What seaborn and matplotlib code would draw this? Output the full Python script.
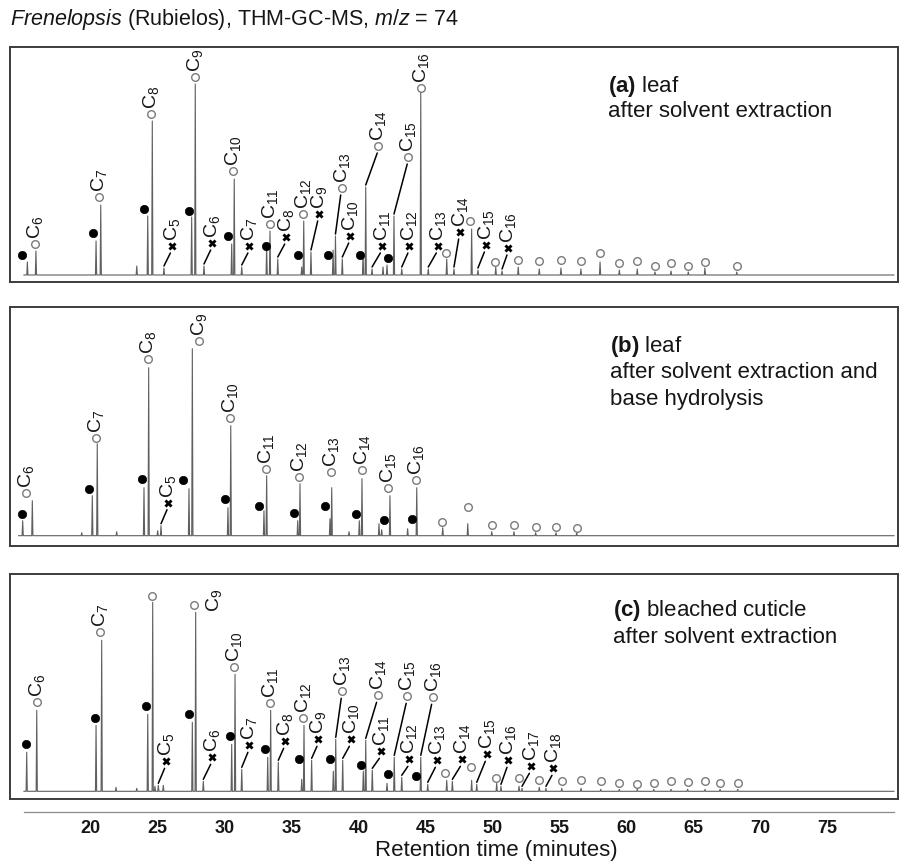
import numpy as np
import pandas as pd
import matplotlib
matplotlib.use("Agg")
import matplotlib.pyplot as plt
import seaborn as sns

# ---------------- data (retention time in minutes, intensity in arbitrary units) ----------------
# panel (a) leaf after solvent extraction
a_peak_t = [15.27, 15.91, 20.40, 20.75, 23.44, 24.26, 24.60, 25.47, 27.54, 27.81,
            28.46, 30.53, 30.72, 31.28, 33.14, 33.39, 33.97, 35.76, 35.91, 36.45,
            38.10, 38.28, 38.79, 40.34, 40.54, 41.01, 41.83, 42.13, 42.65, 43.23,
            44.65, 45.21, 46.59, 47.13, 48.45, 48.92, 50.25, 50.72, 51.93, 53.50,
            55.12, 56.61, 58.04, 59.48, 60.82, 62.14, 63.34, 64.63, 65.87, 68.25]
a_peak_h = [13, 24, 34, 70, 9, 59, 154, 7, 58, 191,
            9, 31, 96, 8, 29, 44, 16, 8, 54, 23,
            25, 39, 16, 22, 88, 6, 8, 10, 59, 6,
            183, 6, 16, 6, 46, 5, 8, 4, 8, 6,
            7, 6, 13, 5, 6, 3, 4, 3, 7, 3]
a_circ_t = [15.84, 20.64, 24.48, 27.81, 30.65, 33.39, 35.86, 38.75, 41.48, 43.72,
            44.65, 46.54, 48.35, 50.19, 51.93, 53.50, 55.12, 56.62, 58.04, 59.48,
            60.82, 62.14, 63.34, 64.63, 65.88, 68.25]
a_circ_y = [31, 78, 161, 198, 104, 51, 61, 87, 129, 118,
            187, 22, 54, 13, 15, 14, 15, 14, 22, 12,
            14, 9, 12, 9, 13, 9]
a_circ_n = [6, 7, 8, 9, 10, 11, 12, 13, 14, 15, 16] + [0] * 15
a_circ_lead = [None] * 7 + [38.28, 40.54, 42.65] + [None] * 16
a_fill_t = [14.85, 20.15, 23.98, 27.34, 30.28, 33.07, 35.50, 37.74, 40.11, 42.18]
a_fill_y = [20, 42, 66, 64, 39, 29, 20, 20, 20, 17]
a_x_t = [26.05, 29.06, 31.84, 34.59, 37.05, 39.37, 41.73, 43.79, 45.91, 47.58, 49.50, 51.19]
a_x_y = [29, 32, 29, 38, 61, 39, 29, 29, 29, 43, 30, 27]
a_x_n = [5, 6, 7, 8, 9, 10, 11, 12, 13, 14, 15, 16]
a_x_peak = [25.47, 28.46, 31.28, 33.97, 36.45, 38.79, 41.01, 43.23, 45.21, 47.13, 48.92, 50.72]

# panel (b) leaf after solvent extraction and base hydrolysis
b_peak_t = [14.92, 15.64, 19.33, 20.12, 20.49, 21.94, 23.98, 24.33, 25.00, 25.25,
            27.34, 27.59, 30.25, 30.46, 32.94, 33.14, 35.46, 35.63, 37.87, 38.00,
            39.29, 40.06, 40.26, 41.53, 41.73, 42.35, 43.67, 44.35, 46.29, 48.16,
            49.95, 51.61, 53.23, 54.75, 56.30]
b_peak_h = [15, 35, 3, 40, 92, 4, 48, 168, 5, 10,
            47, 187, 28, 110, 25, 60, 15, 52, 17, 48,
            4, 15, 57, 12, 6, 40, 7, 48, 8, 12,
            4, 4, 3, 3, 3]
b_circ_t = [15.17, 20.37, 24.30, 28.11, 30.40, 33.07, 35.56, 37.95, 40.24, 42.23,
            44.27, 46.21, 48.16, 49.95, 51.61, 53.23, 54.75, 56.30]
b_circ_y = [43, 98, 177, 195, 118, 67, 59, 64, 66, 48,
            56, 14, 29, 11, 11, 9, 9, 8]
b_circ_n = [6, 7, 8, 9, 10, 11, 12, 13, 14, 15, 16] + [0] * 7
b_circ_lead = [None] * 18
b_fill_t = [14.85, 19.87, 23.85, 26.92, 30.03, 32.57, 35.18, 37.50, 39.81, 41.93, 43.97]
b_fill_y = [22, 47, 57, 56, 37, 30, 23, 30, 22, 16, 17]
b_x_t = [25.80]
b_x_y = [33]
b_x_n = [5]
b_x_peak = [25.25]

# panel (c) bleached cuticle after solvent extraction
c_peak_t = [15.22, 15.97, 20.40, 20.82, 21.89, 23.44, 24.26, 24.63, 24.80, 25.05,
            25.42, 27.59, 27.84, 28.41, 30.53, 30.78, 31.28, 33.22, 33.44, 34.01,
            35.76, 35.93, 36.50, 38.12, 38.30, 38.82, 40.36, 40.54, 41.03, 42.13,
            42.67, 43.23, 44.65, 45.17, 46.59, 47.01, 48.45, 48.83, 50.32, 50.64,
            51.99, 52.21, 53.50, 54.00, 55.18, 56.62, 58.09, 59.48, 60.82, 62.05,
            63.34, 64.58, 65.88, 67.00, 68.32]
c_peak_h = [39, 81, 66, 151, 4, 3, 77, 189, 5, 6,
            6, 69, 179, 10, 47, 117, 22, 34, 81, 29,
            12, 66, 31, 20, 52, 31, 20, 51, 21, 8,
            34, 14, 34, 7, 11, 10, 11, 7, 8, 5,
            5, 3, 4, 3, 3, 3, 2, 2, 2, 2,
            2, 2, 2, 2, 2]
c_circ_t = [15.97, 20.69, 24.60, 27.74, 30.72, 33.39, 35.83, 38.79, 41.43, 43.64,
            45.54, 46.49, 48.38, 50.25, 51.99, 53.50, 55.18, 56.62, 58.09, 59.48,
            60.82, 62.05, 63.34, 64.58, 65.88, 67.00, 68.32]
c_circ_y = [89, 159, 195, 186, 124, 88, 73, 100, 96, 95,
            94, 18, 24, 13, 13, 11, 10, 11, 10, 8,
            7, 8, 10, 9, 10, 8, 8]
c_circ_n = [6, 7, 0, 9, 10, 11, 12, 13, 14, 15, 16] + [0] * 16
c_circ_lead = [None] * 7 + [38.30, 40.54, 42.67, 44.65] + [None] * 16
c_fill_t = [15.17, 20.32, 24.11, 27.36, 30.40, 33.02, 35.56, 37.87, 40.16, 42.23, 44.30]
c_fill_y = [47, 73, 85, 77, 55, 42, 32, 32, 26, 17, 15]
c_x_t = [25.62, 29.06, 31.84, 34.51, 37.00, 39.42, 41.66, 43.79, 45.84, 47.71,
         49.57, 51.19, 52.86, 54.55]
c_x_y = [30, 34, 46, 50, 52, 52, 40, 32, 31, 32, 37, 31, 25, 23]
c_x_n = [5, 6, 7, 8, 9, 10, 11, 12, 13, 14, 15, 16, 17, 18]
c_x_peak = [25.05, 28.41, 31.28, 34.01, 36.50, 38.82, 41.03, 43.23, 45.17, 47.01,
            48.83, 50.64, 52.21, 54.00]

panel_texts = [["(a)", " leaf", "after solvent extraction"],
               ["(b)", " leaf", "after solvent extraction and", "base hydrolysis"],
               ["(c)", " bleached cuticle", "after solvent extraction"]]
x_ticks = [15, 20, 25, 30, 35, 40, 45, 50, 55, 60, 65, 70, 75, 80]
x_tick_labels = ["", "20", "25", "30", "35", "40", "45", "50", "55", "60", "65", "70", "75", ""]

# ---------------- style ----------------
sns.set_style("white")
plt.rcParams["font.family"] = ["Liberation Sans", "DejaVu Sans"]
plt.rcParams["mathtext.fontset"] = "custom"
plt.rcParams["mathtext.rm"] = "Liberation Sans"
plt.rcParams["mathtext.it"] = "Liberation Sans:italic"
plt.rcParams["mathtext.bf"] = "Liberation Sans:bold"

W, H = 899, 862
fig = plt.figure(figsize=(W / 100, H / 100), dpi=100)


def fx(px):
    return px / W


def fy(py):
    return 1 - py / H


def tmin(px):  # pixel column -> retention time (layout only)
    return 20 + (px - 90.7) / 13.39


XLIM = (tmin(10), tmin(898))
TRACE_C = "#606060"
CIRC_EC = "#7a7a7a"
TXT_C = "#161616"
LAB_FS = 14


def build_trace(pt, ph, t0, t1=80.0, w=0.045):
    order = np.argsort(pt)
    xs, ys = [t0], [0.0]
    for i in order:
        xs += [pt[i] - w, pt[i], pt[i] + w]
        ys += [0.0, ph[i], 0.0]
    xs.append(t1)
    ys.append(0.0)
    return pd.DataFrame({"t": xs, "I": ys})


def draw_panel(ax, d):
    peak_lookup = dict(zip(d["peak_t"], d["peak_h"]))
    tr = build_trace(d["peak_t"], d["peak_h"], d["t0"])
    sns.lineplot(data=tr, x="t", y="I", ax=ax, estimator=None, sort=False,
                 color=TRACE_C, lw=0.8, zorder=2)
    # leader lines
    for t, y, pk in zip(d["circ_t"], d["circ_y"], d["circ_lead"]):
        if pk is not None:
            ax.plot([pk, t - 0.08], [peak_lookup[pk] + 2, y - 7], color="black", lw=1.1, zorder=3)
    for t, y, pk in zip(d["x_t"], d["x_y"], d["x_peak"]):
        ax.plot([pk, t - 0.1], [peak_lookup[pk] + 2, y - 7], color="black", lw=1.1, zorder=3)
    # markers
    sns.scatterplot(x=d["circ_t"], y=d["circ_y"], ax=ax, marker="o", s=30,
                    color="white", edgecolor=CIRC_EC, linewidth=1.0, zorder=4)
    sns.scatterplot(x=d["fill_t"], y=d["fill_y"], ax=ax, marker="o", s=36,
                    color="black", edgecolor="black", linewidth=0.5, zorder=4)
    sns.scatterplot(x=d["x_t"], y=d["x_y"], ax=ax, marker="X", s=34,
                    color="black", linewidth=0, zorder=4)
    # labels
    for t, y, n in zip(d["circ_t"], d["circ_y"], d["circ_n"]):
        if n:
            if n in d.get("override", {}):
                lt, ly = d["override"][n]
                ax.text(lt, ly, f"C$_{{{n}}}$", rotation=90, ha="center", va="center",
                        fontsize=LAB_FS, color=TXT_C)
            else:
                ax.text(t, y + 6, f"C$_{{{n}}}$", rotation=90, ha="center", va="bottom",
                        fontsize=LAB_FS, color=TXT_C)
    for t, y, n in zip(d["x_t"], d["x_y"], d["x_n"]):
        ax.text(t, y + 6, f"C$_{{{n}}}$", rotation=90, ha="center", va="bottom",
                fontsize=LAB_FS, color=TXT_C)
    ax.set_xlim(*XLIM)
    ax.set_ylim(*d["ylim"])
    ax.set_xticks([])
    ax.set_yticks([])
    ax.set_xlabel("")
    ax.set_ylabel("")
    for s in ax.spines.values():
        s.set_visible(True)
        s.set_color("#3c3c3c")
        s.set_linewidth(1.4)


panels = [
    dict(peak_t=a_peak_t, peak_h=a_peak_h, circ_t=a_circ_t, circ_y=a_circ_y, circ_n=a_circ_n,
         circ_lead=a_circ_lead, fill_t=a_fill_t, fill_y=a_fill_y, x_t=a_x_t, x_y=a_x_y,
         x_n=a_x_n, x_peak=a_x_peak, t0=15.0, ylim=(-7, 228), box=(48, 283)),
    dict(peak_t=b_peak_t, peak_h=b_peak_h, circ_t=b_circ_t, circ_y=b_circ_y, circ_n=b_circ_n,
         circ_lead=b_circ_lead, fill_t=b_fill_t, fill_y=b_fill_y, x_t=b_x_t, x_y=b_x_y,
         x_n=b_x_n, x_peak=b_x_peak, t0=14.6, ylim=(-10.3, 228.7), box=(308, 547)),
    dict(peak_t=c_peak_t, peak_h=c_peak_h, circ_t=c_circ_t, circ_y=c_circ_y, circ_n=c_circ_n,
         circ_lead=c_circ_lead, fill_t=c_fill_t, fill_y=c_fill_y, x_t=c_x_t, x_y=c_x_y,
         x_n=c_x_n, x_peak=c_x_peak, t0=15.0, ylim=(-7.7, 217.3), box=(575, 800),
         override={9: (tmin(214.3), 192)}),
]

text_pos = [(608.3, [91.7, 117.3]), (610, [352.3, 378.3, 405.0]), (612.7, [616.0, 642.7])]

for d, tp, txt in zip(panels, text_pos, panel_texts):
    top, bot = d["box"]
    ax = fig.add_axes([fx(10), fy(bot), fx(898) - fx(10), fy(top) - fy(bot)])
    draw_panel(ax, d)
    x0, ys = tp
    fig.text(fx(x0), fy(ys[0]), r"$\mathbf{" + txt[0] + "}$" + txt[1], fontsize=16,
             va="baseline", ha="left", color=TXT_C)
    for line, yy in zip(txt[2:], ys[1:]):
        fig.text(fx(x0), fy(yy), line, fontsize=16, va="baseline", ha="left", color=TXT_C)

# shared x axis
axx = fig.add_axes([fx(10), fy(812.7), fx(898) - fx(10), 0.001])
axx.patch.set_visible(False)
axx.set_xlim(*XLIM)
axx.set_yticks([])
for k in ["top", "left", "right"]:
    axx.spines[k].set_visible(False)
axx.spines["bottom"].set_bounds(15, 80)
axx.spines["bottom"].set_color("#8a8a8a")
axx.spines["bottom"].set_linewidth(0.9)
axx.set_xticks(x_ticks)
axx.set_xticklabels(x_tick_labels)
axx.set_xticks(np.arange(15, 81, 1), minor=True)
axx.tick_params(axis="x", which="major", direction="out", length=3.5, width=0.9,
                color="#8a8a8a", pad=1.5, labelsize=13, labelcolor=TXT_C)
axx.tick_params(axis="x", which="minor", direction="out", length=2.2, width=0.8, color="#8a8a8a")
for lab in axx.get_xticklabels():
    lab.set_fontweight("bold")

fig.text(fx(496), fy(856.5), "Retention time (minutes)", fontsize=16, ha="center",
         va="baseline", color=TXT_C)
fig.text(fx(10), fy(25.5), r"$\mathit{Frenelopsis}$ (Rubielos), THM-GC-MS, $\mathit{m/z}$ = 74",
         fontsize=15.5, ha="left", va="baseline", color=TXT_C)

fig.savefig("out.png", dpi=100)
